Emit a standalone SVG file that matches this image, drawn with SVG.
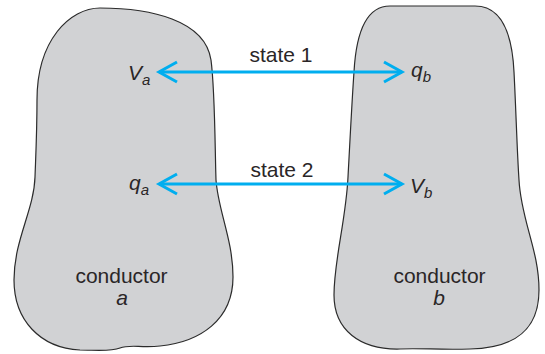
<svg xmlns="http://www.w3.org/2000/svg" width="545" height="354" viewBox="0 0 545 354">
<style>
.body{fill:#d1d2d4;stroke:#2b2b2b;stroke-width:1.2}
.t{font-family:"Liberation Sans",Arial,sans-serif;font-size:21px;fill:#2a2627}
.i{font-style:italic}
.s{font-size:15px}
.arr{stroke:#00aeef;stroke-width:3;fill:none}
</style>
<defs>
<marker id="ah" markerUnits="userSpaceOnUse" markerWidth="24" markerHeight="24" viewBox="-20 -12 24 24" refX="0" refY="0" orient="auto-start-reverse">
<path d="M -18,-10 L 0,0 L -18,10" fill="none" stroke="#00aeef" stroke-width="3"/>
</marker>
</defs>
<g id="conductor-a">
<path class="body" d="M 37,100 C 37,40 70,8 100,8 C 150,8 205,20 211,60 C 215,90 215,150 216,180 C 218,210 233,240 233,277 C 233,320 200,342 160,346 C 140,348 130,344 120,348 C 110,352 95,350 80,350 C 40,348 14,320 14,280 C 14,240 34,210 35,177 C 36,150 37,130 37,100 Z"/>
<text class="t" x="121.5" y="283" text-anchor="middle">conductor</text>
<text class="t i" x="122" y="305" text-anchor="middle">a</text>
<text class="t i" x="128" y="80">V<tspan class="s" dy="5">a</tspan></text>
<text class="t i" x="129" y="190">q<tspan class="s" dy="5">a</tspan></text>
</g>
<g id="conductor-b">
<path class="body" d="M 390,6 L 475,6 C 500,6 512,30 514,72 C 516,110 517,150 519,180 C 521,220 539,250 539,290 C 539,330 515,348 470,349 C 440,350 420,348 400,349 C 360,350 334,330 334,295 C 334,260 346,220 348,177 C 350,140 352,100 354,72 C 356,35 365,6 390,6 Z"/>
<text class="t" x="439.5" y="283" text-anchor="middle">conductor</text>
<text class="t i" x="439" y="305" text-anchor="middle">b</text>
<text class="t i" x="411" y="77">q<tspan class="s" dy="5">b</tspan></text>
<text class="t i" x="410" y="193">V<tspan class="s" dy="5">b</tspan></text>
</g>
<g id="connectors">
<line class="arr" x1="159" y1="72" x2="402" y2="72" marker-start="url(#ah)" marker-end="url(#ah)"/>
<line class="arr" x1="159" y1="184" x2="402" y2="184" marker-start="url(#ah)" marker-end="url(#ah)"/>
<text class="t" x="281" y="62" text-anchor="middle">state 1</text>
<text class="t" x="282" y="177" text-anchor="middle">state 2</text>
</g>
</svg>
